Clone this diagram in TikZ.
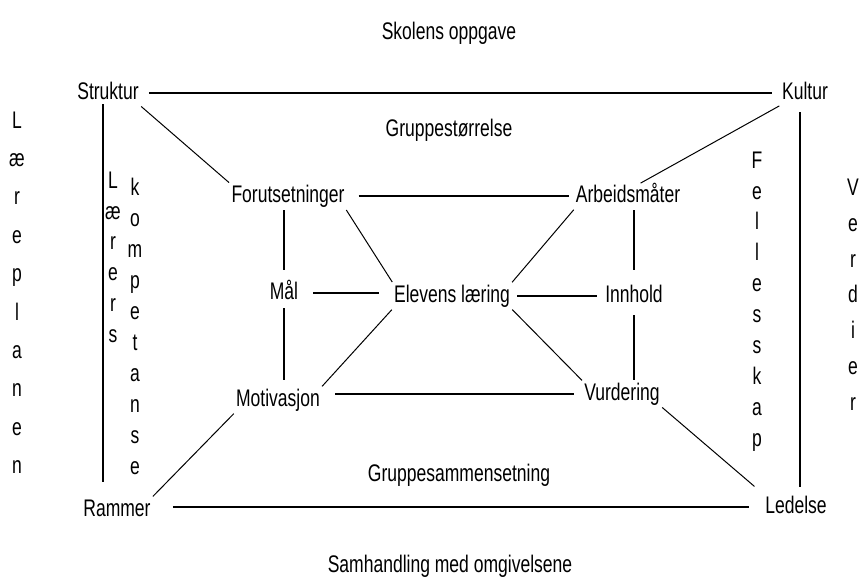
\documentclass[tikz,border=0pt]{standalone}
\usepackage{fontspec}
\setmainfont{Liberation Sans}[FakeStretch=0.73]
\usetikzlibrary{calc}
\begin{document}
\begin{tikzpicture}[x=1pt,y=-1pt,
  txt/.style={inner sep=0pt, font=\fontsize{24}{28}\selectfont, text height=17.5pt, text depth=5pt},
  col/.style={inner sep=0pt, anchor=north, align=center, font=\fontsize{24}{#1}\selectfont},
  ln/.style={line width=1.6pt},
  dg/.style={line width=1pt, shorten <=3pt, shorten >=3pt}]
\useasboundingbox[fill=white] (0,0) rectangle (866,587);
% texts
\node[txt] (skolens) at (449,33) {Skolens oppgave};
\node[txt] (struktur) at (108,93) {Struktur};
\node[txt] (kultur) at (805,93) {Kultur};
\node[txt] (gstor) at (449,130) {Gruppestørrelse};
\node[txt] (forut) at (288,196) {Forutsetninger};
\node[txt] (arb) at (628,196) {Arbeidsmåter};
\node[txt] (maal) at (284,293) {Mål};
\node[txt] (elev) at (452,296) {Elevens læring};
\node[txt] (innhold) at (634,296) {Innhold};
\node[txt] (motiv) at (278,400) {Motivasjon};
\node[txt] (vurd) at (622,394) {Vurdering};
\node[txt] (gsam) at (459,475) {Gruppesammensetning};
\node[txt] (rammer) at (117,510) {Rammer};
\node[txt] (ledelse) at (796,507) {Ledelse};
\node[txt] (samh) at (450,566) {Samhandling med omgivelsene};
% vertical words
\node[col=38.4pt] (laereplan) at (17,111.4) {L\\æ\\r\\e\\p\\l\\a\\n\\e\\n};
\node[col=30.9pt] (laerers) at (113,171.4) {L\\æ\\r\\e\\r\\s};
\node[col=30.95pt] (komp) at (135,178.2) {k\\o\\m\\p\\e\\t\\a\\n\\s\\e};
\node[col=30.9pt] (felles) at (757,151.4) {F\\e\\l\\l\\e\\s\\s\\k\\a\\p};
\node[col=35.95pt] (verdier) at (853,178.4) {V\\e\\r\\d\\i\\e\\r};
% horizontal connectors
\draw[ln, shorten <=10pt, shorten >=10pt] (struktur.east) -- (kultur.west);
\draw[ln, shorten <=14pt, shorten >=7pt] (forut.east) -- (arb.west);
\draw[ln, shorten <=15pt, shorten >=15pt] (maal.east) -- (maal.east -| elev.west);
\draw[ln, shorten <=7pt, shorten >=8pt] (elev.east) -- (innhold.west);
\draw[ln, shorten <=15pt, shorten >=10pt] (motiv.east |- vurd.west) -- (vurd.west);
\draw[ln, shorten <=22pt, shorten >=16pt] (rammer.east |- ledelse.west) -- (ledelse.west);
% vertical connectors
\draw[ln, shorten >=17pt] ([xshift=-5pt]struktur.south) -- ([xshift=-5pt]struktur.south |- rammer.north);
\draw[ln, shorten <=8pt, shorten >=9pt] ([xshift=-5pt]kultur.south) -- ([xshift=-5pt]kultur.south |- ledelse.north);
\draw[ln, shorten <=3pt, shorten >=12pt] (maal.north |- forut.south) -- (maal.north);
\draw[ln, shorten <=4pt, shorten >=9pt] (maal.south) -- (maal.south |- motiv.north);
\draw[ln, shorten <=3pt, shorten >=15pt] (innhold.north |- arb.south) -- (innhold.north);
\draw[ln, shorten <=8pt, shorten >=3pt] (innhold.south) -- (innhold.south |- vurd.north);
% diagonal connectors
\draw[dg] (struktur.south east) -- (forut.north west);
\draw[dg] (kultur.south west) -- ([xshift=10pt]arb.north);
\draw[dg] (forut.south east) -- (elev.north west);
\draw[dg] (arb.south west) -- (elev.north east);
\draw[dg] (elev.south west) -- (motiv.north east);
\draw[dg] (elev.south east) -- (vurd.north west);
\draw[dg] (motiv.south west) -- (rammer.north east);
\draw[dg, shorten >=14pt] (vurd.south east) -- (ledelse.north west);
\end{tikzpicture}
\end{document}
